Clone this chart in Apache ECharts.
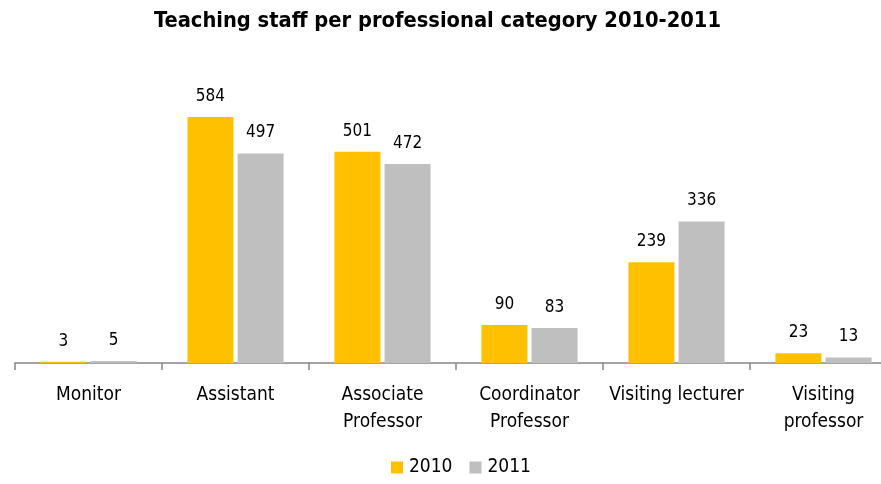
<!DOCTYPE html>
<html><head><meta charset="utf-8">
<script src="https://cdn.jsdelivr.net/npm/echarts@6/dist/echarts.min.js"></script>
<style>html,body{margin:0;padding:0;background:#fff;overflow:hidden;width:881px;height:484px}#c{width:897px;height:484px}</style>
</head><body><div id="c"></div>
<script>
const categories = ['Monitor','Assistant','Associate\nProfessor','Coordinator\nProfessor','Visiting lecturer','Visiting\nprofessor'];
const values2010 = [3,584,501,90,239,23];
const values2011 = [5,497,472,83,336,13];
const seriesNames = ['2010','2011'];
const FONT = '"Liberation Sans Narrow","DejaVu Sans Condensed","Liberation Sans",sans-serif';
const chart = echarts.init(document.getElementById('c'));
const lbl = {show:true,position:'top',distance:12,color:'#000',fontSize:17,fontFamily:FONT};
chart.setOption({
  animation:false,
  title:{text:'Teaching staff per professional category 2010-2011',left:149,top:5,
    textStyle:{fontFamily:FONT,fontSize:21.7,fontWeight:'bold',color:'#000'}},
  legend:{bottom:2,left:386,itemWidth:12,itemHeight:12,itemGap:17,icon:'rect',
    textStyle:{fontFamily:FONT,fontSize:19,color:'#000',padding:[0,0,0,1]},data:seriesNames},
  grid:{left:15,right:0,top:68,bottom:121,containLabel:false},
  xAxis:{type:'category',data:categories,
    axisLine:{lineStyle:{color:'#878787',width:1.5}},
    axisTick:{show:true,length:7,lineStyle:{color:'#878787',width:1.5}},
    axisLabel:{color:'#000',fontFamily:FONT,fontSize:19,lineHeight:27,margin:19,interval:0}},
  yAxis:{type:'value',min:0,max:700,show:false,splitLine:{show:false}},
  series:[
    {name:seriesNames[0],type:'bar',data:values2010,barWidth:46,barGap:'9%',itemStyle:{color:'#FFC000'},label:lbl},
    {name:seriesNames[1],type:'bar',data:values2011,barWidth:46,itemStyle:{color:'#BFBFBF'},label:lbl}
  ]
});
</script></body></html>
